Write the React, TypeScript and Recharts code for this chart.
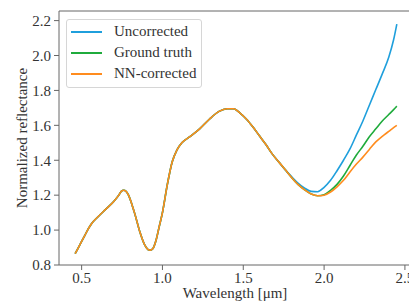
import { LineChart, Line, XAxis, YAxis, ReferenceLine } from 'recharts';

const wavelength = [
  0.46, 0.48, 0.5, 0.52, 0.54, 0.56, 0.6, 0.65, 0.7, 0.73, 0.745, 0.76, 0.775, 0.79, 0.81, 0.83, 0.86, 0.89,
  0.91, 0.925, 0.94, 0.96, 0.98, 1.0, 1.03, 1.06, 1.09, 1.12, 1.17, 1.23, 1.29, 1.35, 1.4, 1.44, 1.48, 1.52,
  1.56, 1.6, 1.64, 1.68, 1.72, 1.76, 1.8, 1.84, 1.88, 1.92, 1.96, 2.0, 2.04, 2.08, 2.12, 2.16,
  2.2, 2.24, 2.28, 2.32, 2.36, 2.4, 2.43, 2.45,
];

const uncorrected = [
  0.865, 0.9, 0.935, 0.97, 1.005, 1.035, 1.075, 1.12, 1.165, 1.2, 1.222, 1.228, 1.222, 1.2, 1.15, 1.09, 0.99, 0.915,
  0.889, 0.885, 0.893, 0.94, 1.02, 1.1, 1.26, 1.39, 1.46, 1.5, 1.535, 1.58, 1.635, 1.68, 1.695, 1.695, 1.67, 1.635,
  1.59, 1.54, 1.49, 1.435, 1.39, 1.345, 1.305, 1.268, 1.24, 1.222, 1.22, 1.245, 1.285, 1.34, 1.4, 1.465,
  1.545, 1.625, 1.715, 1.805, 1.895, 1.99, 2.09, 2.18,
];

const groundTruth = [
  0.865, 0.9, 0.935, 0.97, 1.005, 1.035, 1.075, 1.12, 1.165, 1.2, 1.222, 1.228, 1.222, 1.2, 1.15, 1.09, 0.99, 0.915,
  0.889, 0.885, 0.893, 0.94, 1.02, 1.1, 1.26, 1.39, 1.46, 1.5, 1.535, 1.58, 1.635, 1.68, 1.695, 1.695, 1.67, 1.635,
  1.59, 1.54, 1.49, 1.435, 1.39, 1.345, 1.3, 1.26, 1.23, 1.207, 1.197, 1.203, 1.228, 1.262, 1.31, 1.37,
  1.43, 1.48, 1.535, 1.58, 1.625, 1.662, 1.69, 1.71,
];

const nnCorrected = [
  0.865, 0.9, 0.935, 0.97, 1.005, 1.035, 1.075, 1.12, 1.165, 1.2, 1.222, 1.228, 1.222, 1.2, 1.15, 1.09, 0.99, 0.915,
  0.889, 0.885, 0.893, 0.94, 1.02, 1.1, 1.26, 1.39, 1.46, 1.5, 1.535, 1.58, 1.635, 1.68, 1.695, 1.695, 1.67, 1.635,
  1.59, 1.54, 1.49, 1.435, 1.39, 1.345, 1.3, 1.26, 1.23, 1.207, 1.197, 1.2, 1.218, 1.248, 1.285, 1.333,
  1.378, 1.418, 1.462, 1.505, 1.537, 1.565, 1.587, 1.6,
];

const xTicks = [0.5, 1.0, 1.5, 2.0, 2.5];
const yTicks = [0.8, 1.0, 1.2, 1.4, 1.6, 1.8, 2.0, 2.2];

const series = [
  { key: 'uncorrected', name: 'Uncorrected', color: '#1f9fdc' },
  { key: 'groundTruth', name: 'Ground truth', color: '#1fab3c' },
  { key: 'nnCorrected', name: 'NN-corrected', color: '#ff8c1e' },
];

const data = wavelength.map((w, i) => ({
  w,
  uncorrected: uncorrected[i],
  groundTruth: groundTruth[i],
  nnCorrected: nnCorrected[i],
}));

const font = "'Liberation Serif', Times, serif";
const axisColor = '#666';
const textColor = '#333';
const tickStyle = { fill: textColor, fontSize: 15, fontFamily: font };

export default function App() {
  return (
    <div
      style={{
        position: 'fixed',
        left: 0,
        top: 0,
        width: 409,
        height: 304,
        overflow: 'hidden',
        background: '#fff',
        fontFamily: font,
      }}
    >
      <LineChart
        width={420}
        height={304}
        data={data}
        margin={{ top: 11, right: 7, bottom: 0, left: 0 }}
        style={{ fontFamily: font }}
      >
        <XAxis
          dataKey="w"
          type="number"
          domain={[0.36, 2.55]}
          ticks={xTicks}
          tickFormatter={(v: number) => v.toFixed(1)}
          allowDataOverflow
          height={39}
          stroke={axisColor}
          tickSize={5}
          tickMargin={2}
          tick={tickStyle}
          label={() => (
            <text x={235} y={298} textAnchor="middle" fill={textColor} fontSize={15} style={{ fontFamily: font }}>
              Wavelength [μm]
            </text>
          )}
        />
        <YAxis
          type="number"
          domain={[0.8, 2.255]}
          ticks={yTicks}
          tickFormatter={(v: number) => v.toFixed(1)}
          allowDataOverflow
          width={59}
          stroke={axisColor}
          tickSize={5}
          tickMargin={3}
          tick={tickStyle}
          label={() => (
            <text
              x={22}
              y={138}
              transform="rotate(-90 22 138)"
              textAnchor="middle"
              dominantBaseline="central"
              fill={textColor}
              fontSize={15}
              style={{ fontFamily: font }}
            >
              Normalized reflectance
            </text>
          )}
        />
        <ReferenceLine y={2.255} stroke={axisColor} ifOverflow="visible" />
        {series.map((s) => (
          <Line
            key={s.key}
            dataKey={s.key}
            name={s.name}
            type="monotone"
            stroke={s.color}
            strokeWidth={1.6}
            dot={false}
            isAnimationActive={false}
          />
        ))}
      </LineChart>

      {/* Legend */}
      <div
        style={{
          position: 'absolute',
          left: 66,
          top: 19,
          width: 134,
          height: 66,
          border: '1px solid #d6d6d6',
          borderRadius: 3,
          background: 'rgba(255,255,255,0.85)',
          paddingTop: 1,
          boxSizing: 'content-box',
        }}
      >
        {series.map((s) => (
          <div key={s.key} style={{ display: 'flex', alignItems: 'center', height: 21 }}>
            <div style={{ marginLeft: 4, width: 31, height: 2, background: s.color }} />
            <span style={{ marginLeft: 12, fontSize: 15, color: textColor, lineHeight: '21px', fontFamily: font }}>
              {s.name}
            </span>
          </div>
        ))}
      </div>
    </div>
  );
}
